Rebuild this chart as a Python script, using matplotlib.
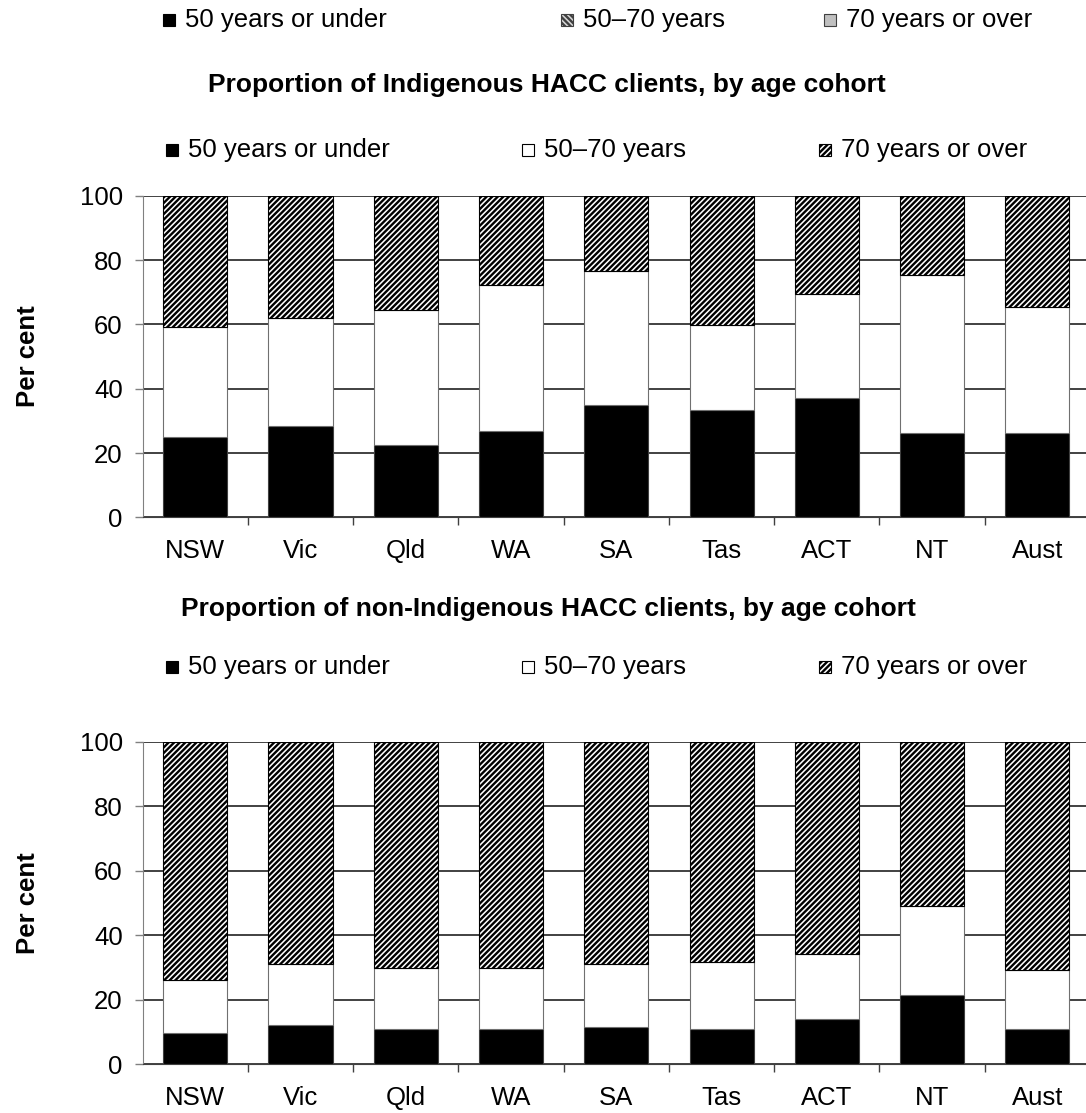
import numpy as np
import matplotlib
matplotlib.use("Agg")
from matplotlib import pyplot as plt
from matplotlib.patches import Rectangle

# per cent of HACC clients in each age cohort, by jurisdiction
states = ["NSW", "Vic", "Qld", "WA", "SA", "Tas", "ACT", "NT", "Aust"]

indig_under50 = [25.1, 28.3, 22.6, 26.9, 35.0, 33.3, 37.0, 26.4, 26.4]
indig_50to70 = [34.0, 33.8, 42.0, 45.2, 41.6, 26.4, 32.6, 48.9, 39.0]
indig_over70 = [40.9, 37.9, 35.4, 27.9, 23.4, 40.3, 30.4, 24.7, 34.6]

nonindig_under50 = [9.6, 12.1, 10.9, 10.8, 11.5, 10.8, 13.9, 21.4, 10.9]
nonindig_50to70 = [16.5, 19.0, 18.9, 19.0, 19.6, 20.9, 20.3, 27.6, 18.4]
nonindig_over70 = [73.9, 68.9, 70.2, 70.2, 68.9, 68.3, 65.8, 51.0, 70.7]

legend_labels = ["50 years or under", "50\u201370 years", "70 years or over"]

plt.rcParams["font.family"] = ["Liberation Sans", "DejaVu Sans"]
plt.rcParams["hatch.linewidth"] = 1.7

W, H = 1086, 1113
fig = plt.figure(figsize=(W / 100, H / 100), dpi=100)


def fx(px):
    return px / W


def fy(py):
    return 1 - py / H


def key(x, base, face, hatch, label, edge="black"):
    # little square + label, positioned in pixels (baseline y)
    fig.add_artist(Rectangle((fx(x), fy(base - 1)), 12 / W, 12 / H,
                             transform=fig.transFigure, facecolor=face,
                             edgecolor=edge, hatch=hatch, lw=0.8))
    fig.text(fx(x + 22), fy(base), label, fontsize=18.5, va="baseline")


def legend_row(base):
    key(166, base, "black", None, legend_labels[0])
    key(522, base, "white", None, legend_labels[1])
    key(819, base, "white", "//////", legend_labels[2])


def panel(top, bottom, under, mid, over):
    ax = fig.add_axes([fx(142.7), fy(bottom), (1090 - 142.7) / W,
                       (bottom - top) / H])
    x = np.arange(len(states))
    w = 0.61
    ax.bar(x, under, w, color="black", edgecolor="#404040", lw=0.8)
    ax.bar(x, mid, w, bottom=under, color="white", edgecolor="#707070",
           lw=0.8)
    ax.bar(x, over, w, bottom=np.add(under, mid), color="white",
           edgecolor="black", hatch="//////", lw=0.8)
    ax.set_xlim(-0.5, len(states) - 0.5)
    ax.set_ylim(0, 100)
    ax.set_yticks(range(0, 101, 20))
    ax.yaxis.grid(True, color="#333333", lw=1.3)
    ax.set_axisbelow(True)
    ax.set_xticks(x)
    ax.set_xticklabels(states)
    ax.set_xticks(np.arange(0.5, len(states) - 1, 1), minor=True)
    ax.tick_params(axis="x", which="major", length=0, pad=15.5,
                   labelsize=18.5)
    ax.tick_params(axis="x", which="minor", length=5.4, width=1,
                   color="#404040")
    ax.tick_params(axis="y", length=5.8, width=1, color="#808080", pad=8.6,
                   labelsize=18.5)
    for s in ["top", "right"]:
        ax.spines[s].set_visible(False)
    ax.spines["left"].set_color("#808080")
    ax.spines["bottom"].set_color("#404040")
    fig.text(fx(28), fy((top + bottom) / 2), "Per cent", rotation=90,
             ha="center", va="center", fontsize=18.5, fontweight="bold")
    return ax


# leftover key from the chart above (cut off at the top)
key(163, 27, "black", None, legend_labels[0])
key(561, 27, "#d8d8d8", "\\\\\\\\\\\\", legend_labels[1], edge="#404040")
key(824, 27, "#c0c0c0", None, legend_labels[2], edge="#404040")

fig.text(fx(547), fy(85), "Proportion of Indigenous HACC clients, by age cohort",
         ha="center", va="center", fontsize=19, fontweight="bold")
legend_row(157)
panel(195.7, 517.5, indig_under50, indig_50to70, indig_over70)

fig.text(fx(548), fy(609),
         "Proportion of non-Indigenous HACC clients, by age cohort",
         ha="center", va="center", fontsize=19, fontweight="bold")
legend_row(674)
panel(741.7, 1064.3, nonindig_under50, nonindig_50to70, nonindig_over70)

fig.savefig("out.png", dpi=100)
